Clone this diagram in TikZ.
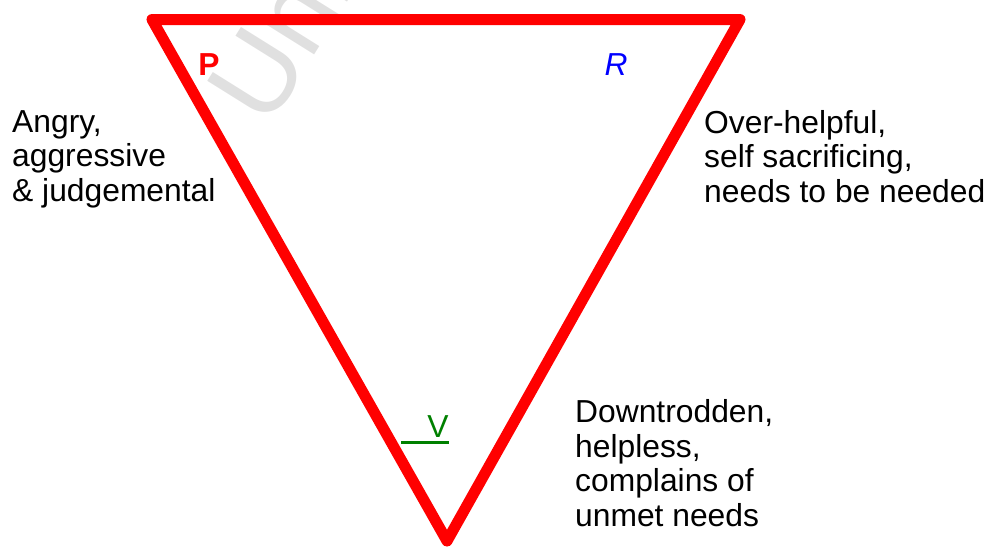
\documentclass[tikz,border=0pt]{standalone}
\usepackage{fontspec}
\setmainfont{Liberation Sans}
\usetikzlibrary{calc}

\tikzset{
  label text/.style={anchor=base west, inner sep=0pt, align=left,
    font=\fontsize{31.8}{34.5}\selectfont},
  corner text/.style={anchor=base, inner sep=0pt,
    font=\fontsize{31.8}{34.5}\selectfont}
}

\begin{document}
\begin{tikzpicture}[x=1pt,y=-1pt]
  \useasboundingbox (0,0) rectangle (988,549);
  \clip (0,0) rectangle (988,549);

  %watermark
  \node[anchor=base west, inner sep=0pt, rotate=58, text=black!12,
    font=\fontsize{112}{112}\selectfont] (Wm) at (268,130) {Unl};

  %triangle
  \coordinate (TrP) at (152.0, 19.5);
  \coordinate (TrR) at (740.0, 19.5);
  \coordinate (TrV) at (447.0, 541.0);
  \draw[red, line width=11pt, line join=round] (TrP) -- (TrR) -- (TrV) -- cycle;

  %corners
  \node[corner text, text=red] (P) at (209, 75) {\bfseries P};
  \node[corner text, text=blue] (R) at (616, 75) {\itshape R};
  \node[corner text, text=green!50!black] (V) at (438, 437) {V};
  \coordinate (Vl) at (401, 442);
  \draw[green!50!black, line width=3pt] (Vl) -- (Vl -| V.east);

  %roles (anchored on the last line)
  \node[label text] (Pt) at (12, 201) {Angry,\\aggressive\\\& judgemental};
  \node[label text] (Rt) at (704, 202) {Over-helpful,\\self sacrificing,\\needs to be needed};
  \node[label text] (Vt) at (575, 526) {Downtrodden,\\helpless,\\complains of\\unmet needs};

\end{tikzpicture}
\end{document}
